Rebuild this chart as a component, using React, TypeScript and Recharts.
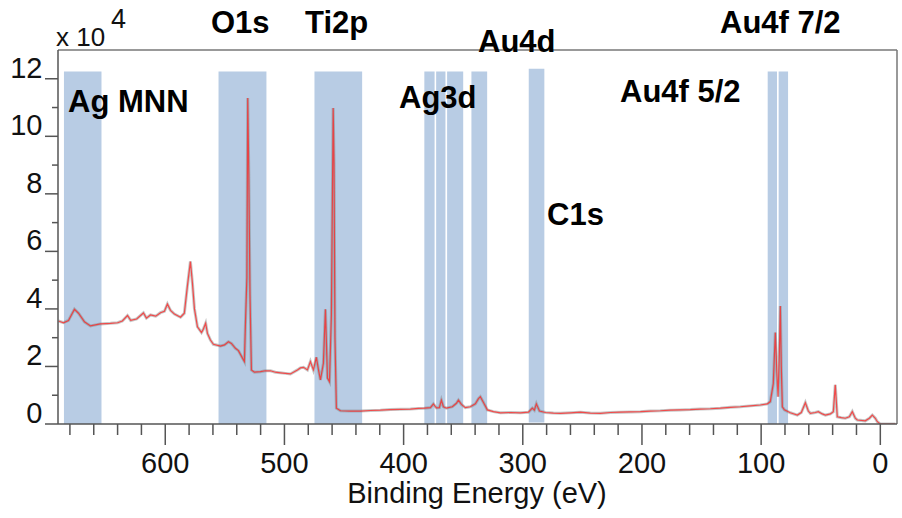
import React from "react";
import {
  ComposedChart,
  Line,
  XAxis,
  YAxis,
  ReferenceArea,
  ReferenceLine,
} from "recharts";

// binding energy (eV), high -> low
const bindingEnergy = [
  689.6, 685.4, 681.2, 676.2, 672.8, 667.8, 662.8, 654.4, 646, 640,
  636, 631.7, 629, 624, 618.3, 615.8, 612.4, 608, 604, 600.7,
  598.2, 595.6, 592.3, 587.2, 584, 581.4, 578.9, 577.2, 575.5, 573,
  569.6, 568, 566.1, 564.6, 562.1, 559.6, 553.7, 550.3, 547, 544.5,
  541.1, 538.6, 535.2, 533.6, 532.7, 531.5, 530.8, 529.9, 528.9, 527.7,
  525.2, 520.1, 516, 511.7, 507.6, 503.4, 499.2, 495, 489.1, 486.6,
  484, 480.7, 478.2, 475.7, 473.2, 471.5, 469.8, 467.3, 465.6, 463.9,
  462.2, 460.6, 459.1, 458.4, 457.6, 456.4, 453, 444.6, 436.2, 427.9,
  419.5, 411.1, 402.7, 394.3, 387.6, 382.6, 377.5, 375, 372.5, 370,
  368.3, 366.6, 364.1, 359.1, 355.7, 354, 351.5, 348.2, 344, 339.8,
  337.2, 335.6, 333, 329.7, 324.7, 318.8, 310.4, 302, 295.3, 292,
  290.3, 288.6, 286, 281, 274.3, 268.5, 260, 251.7, 243.3, 234.9,
  226.5, 218.1, 209.7, 201.3, 193, 184.6, 176.2, 167.8, 159.4, 151,
  142.6, 134.2, 125.8, 117.4, 109.1, 100.7, 94.8, 92.3, 89.8, 88.1,
  86.8, 85.8, 84.7, 83.9, 83.1, 82.2, 80.5, 75.5, 69.6, 66.3,
  62.9, 60.4, 58.7, 54.5, 52, 48.7, 46.1, 41.9, 39.4, 37.8,
  36.1, 32.7, 29.4, 26, 23.5, 21, 19.3, 12.6, 9.2, 6.7,
  4.2, 2.5, 0, -12.6,
];

// counts, x 10^4
const counts = [
  3.58, 3.52, 3.6, 3.99, 3.85, 3.55, 3.41, 3.48, 3.5, 3.52,
  3.58, 3.77, 3.6, 3.65, 3.86, 3.68, 3.79, 3.75, 3.87, 3.92,
  4.17, 3.95, 3.82, 3.71, 3.85, 4.8, 5.65, 4.9, 4.0, 3.38,
  3.18, 3.3, 3.5, 3.15, 2.92, 2.77, 2.71, 2.75, 2.86, 2.8,
  2.63, 2.55, 2.29, 2.17, 3.5, 5.1, 11.33, 8.7, 4.5, 1.88,
  1.8, 1.82, 1.85, 1.85, 1.8, 1.78, 1.76, 1.74, 1.88, 1.95,
  1.97, 1.88, 2.17, 1.88, 2.32, 1.9, 1.53, 2.11, 3.99, 1.6,
  1.47, 3.79, 10.98, 9.07, 3.0, 0.55, 0.46, 0.45, 0.45, 0.47,
  0.48, 0.5, 0.51, 0.52, 0.54, 0.55, 0.57, 0.7, 0.56, 0.57,
  0.83, 0.6, 0.55, 0.6, 0.72, 0.83, 0.68, 0.57, 0.6, 0.7,
  0.88, 0.95, 0.75, 0.49, 0.43, 0.39, 0.4, 0.39, 0.41, 0.55,
  0.48, 0.7, 0.45, 0.4, 0.38, 0.37, 0.39, 0.41, 0.38, 0.37,
  0.4, 0.41, 0.42, 0.43, 0.45, 0.46, 0.48, 0.49, 0.5, 0.52,
  0.53, 0.55, 0.58, 0.6, 0.63, 0.66, 0.7, 0.78, 1.4, 3.18,
  1.8, 0.95, 2.5, 4.1, 2.0, 0.6, 0.49, 0.39, 0.31, 0.4,
  0.74, 0.45, 0.37, 0.4, 0.43, 0.35, 0.31, 0.35, 0.43, 1.36,
  0.25, 0.22, 0.2, 0.25, 0.43, 0.2, 0.14, 0.11, 0.2, 0.31,
  0.2, 0.08, 0, 0,
];

// shaded peak windows [from eV, to eV, top]
const bandStart = [685, 555.3, 474.8, 382.6, 372.7, 363.5, 343.1, 295, 94.5, 85.3];
const bandEnd = [653.5, 515.1, 434.8, 374, 364.9, 350, 329.9, 281.9, 86.7, 77.4];
const bandTop = [12.25, 12.25, 12.25, 12.25, 12.25, 12.25, 12.25, 12.35, 12.25, 12.25];

const xTicks = [680, 660, 640, 620, 600, 580, 560, 540, 520, 500, 480, 460, 440, 420, 400,
  380, 360, 340, 320, 300, 280, 260, 240, 220, 200, 180, 160, 140, 120, 100, 80, 60, 40, 20, 0];
const yTicks = [0, 1, 2, 3, 4, 5, 6, 7, 8, 9, 10, 11, 12];

const peakLabels = ["Ag MNN", "O1s", "Ti2p", "Au4d", "Ag3d", "C1s", "Au4f 5/2", "Au4f 7/2"];
const peakLabelX = [68, 211, 305, 478, 399, 547, 620, 720];
const peakLabelY = [112, 33, 33, 52, 108, 225, 102, 33];

const spectrum = bindingEnergy.map((be, i) => ({ be, counts: counts[i] }));

const AXIS = "#555";
const FONT = '"Liberation Sans", Arial, sans-serif';

function XTick({ x, y, payload }) {
  const major = payload.value % 100 === 0;
  return (
    <g>
      <line x1={x} x2={x} y1={y} y2={y + (major ? 21 : 11)} stroke={AXIS} strokeWidth={1.5} />
      {major && (
        <text x={x} y={y + 49} textAnchor="middle" fontSize={29} fill="#111" fontFamily={FONT}>
          {payload.value}
        </text>
      )}
    </g>
  );
}

function YTick({ x, y, payload }) {
  const major = payload.value % 2 === 0;
  return (
    <g>
      <line x1={x - (major ? 13 : 6)} x2={x} y1={y} y2={y} stroke={AXIS} strokeWidth={1.5} />
      {major && (
        <text x={42.5} y={y - 1} textAnchor="end" fontSize={29} fill="#111" fontFamily={FONT}>
          {payload.value}
        </text>
      )}
    </g>
  );
}

export default function App() {
  return (
    <div
      style={{
        position: "absolute",
        left: 0,
        top: 0,
        width: 902,
        height: 518,
        background: "#fff",
        fontFamily: FONT,
      }}
    >
      <ComposedChart
        width={902}
        height={518}
        data={spectrum}
        margin={{ top: 50, right: 5, bottom: 0, left: 0 }}
      >
        <XAxis
          type="number"
          dataKey="be"
          domain={[-14, 690]}
          reversed
          allowDataOverflow
          ticks={xTicks}
          interval={0}
          tick={(p) => <XTick {...p} />}
          tickSize={0}
          tickMargin={0}
          tickLine={false}
          axisLine={{ stroke: AXIS, strokeWidth: 1.5 }}
          height={94}
        />
        <YAxis
          type="number"
          domain={[0, 13]}
          allowDataOverflow
          ticks={yTicks}
          interval={0}
          tick={(p) => <YTick {...p} />}
          tickSize={0}
          tickMargin={0}
          tickLine={false}
          axisLine={{ stroke: AXIS, strokeWidth: 1.5 }}
          width={58}
        />
        {bandStart.map((from, i) => (
          <ReferenceArea
            key={i}
            x1={from}
            x2={bandEnd[i]}
            y1={i === 7 ? 0.05 : 0}
            y2={bandTop[i]}
            fill="#b8cce4"
            fillOpacity={1}
            stroke="none"
          />
        ))}
        <ReferenceLine y={13} stroke="#777" strokeWidth={1.5} />
        <ReferenceLine x={-14} stroke="#777" strokeWidth={1.5} />
        <Line
          dataKey="counts"
          type="linear"
          stroke="#808080"
          strokeOpacity={0.45}
          strokeWidth={3}
          dot={false}
          activeDot={false}
          isAnimationActive={false}
        />
        <Line
          dataKey="counts"
          type="linear"
          stroke="#ff2020"
          strokeOpacity={0.75}
          strokeWidth={1.2}
          dot={false}
          activeDot={false}
          isAnimationActive={false}
        />
      </ComposedChart>
      <svg
        width={902}
        height={518}
        style={{ position: "absolute", left: 0, top: 0, pointerEvents: "none" }}
      >
        <text x={56} y={46} fontSize={26} fill="#111" fontFamily={FONT}>x 10</text>
        <text x={111} y={28} fontSize={27} fill="#111" fontFamily={FONT}>4</text>
        {peakLabels.map((t, i) => (
          <text
            key={t}
            x={peakLabelX[i]}
            y={peakLabelY[i]}
            fontSize={31}
            fontWeight="bold"
            fill="#000"
            fontFamily={FONT}
          >
            {t}
          </text>
        ))}
        <text x={477} y={503} textAnchor="middle" fontSize={29} fill="#111" fontFamily={FONT}>
          Binding Energy (eV)
        </text>
      </svg>
    </div>
  );
}
